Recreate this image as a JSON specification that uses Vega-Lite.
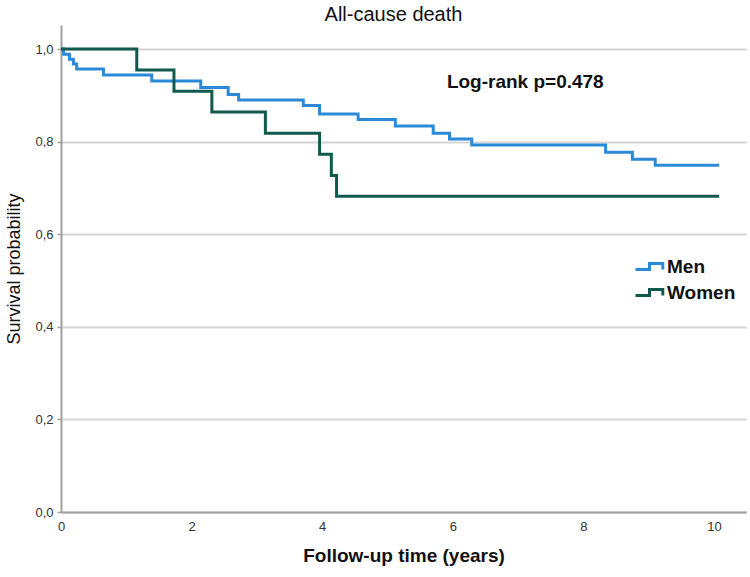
{
  "$schema": "https://vega.github.io/schema/vega-lite/v6.json",
  "width": 685,
  "height": 487,
  "autosize": {"type": "none"},
  "padding": {"left": 61, "top": 25, "right": 4, "bottom": 65},
  "background": "white",
  "title": {"text": "All-cause death", "fontSize": 20, "fontWeight": "normal", "color": "#111", "anchor": "middle", "dx": -10, "offset": 0},
  "config": {"font": "Liberation Sans", "view": {"stroke": null}},
  "datasets": {
    "km": [
      {"group": "Men", "time": 0, "surv": 1.0},
      {"group": "Men", "time": 0.04, "surv": 0.989},
      {"group": "Men", "time": 0.13, "surv": 0.978},
      {"group": "Men", "time": 0.19, "surv": 0.968},
      {"group": "Men", "time": 0.24, "surv": 0.957},
      {"group": "Men", "time": 0.65, "surv": 0.944},
      {"group": "Men", "time": 1.39, "surv": 0.931},
      {"group": "Men", "time": 2.14, "surv": 0.917},
      {"group": "Men", "time": 2.56, "surv": 0.902},
      {"group": "Men", "time": 2.72, "surv": 0.89},
      {"group": "Men", "time": 3.71, "surv": 0.878},
      {"group": "Men", "time": 3.96, "surv": 0.86},
      {"group": "Men", "time": 4.55, "surv": 0.848},
      {"group": "Men", "time": 5.12, "surv": 0.834},
      {"group": "Men", "time": 5.7, "surv": 0.818},
      {"group": "Men", "time": 5.95, "surv": 0.806},
      {"group": "Men", "time": 6.29, "surv": 0.793},
      {"group": "Men", "time": 8.34, "surv": 0.777},
      {"group": "Men", "time": 8.75, "surv": 0.762},
      {"group": "Men", "time": 9.1, "surv": 0.749},
      {"group": "Men", "time": 10.08, "surv": 0.749},
      {"group": "Women", "time": 0, "surv": 1.0},
      {"group": "Women", "time": 1.16, "surv": 0.955},
      {"group": "Women", "time": 1.73, "surv": 0.909},
      {"group": "Women", "time": 2.31, "surv": 0.864},
      {"group": "Women", "time": 3.13, "surv": 0.818},
      {"group": "Women", "time": 3.96, "surv": 0.773},
      {"group": "Women", "time": 4.14, "surv": 0.727},
      {"group": "Women", "time": 4.22, "surv": 0.682},
      {"group": "Women", "time": 10.08, "surv": 0.682}
    ],
    "ann": [{"x": 7.11, "y": 0.929, "label": "Log-rank p=0.478"}]
  },
  "layer": [
    {
      "data": {"name": "km"},
      "mark": {"type": "line", "interpolate": "step-after", "strokeWidth": 3},
      "encoding": {
        "x": {
          "field": "time", "type": "quantitative",
          "scale": {"domain": [0, 10.49], "nice": false, "zero": false},
          "axis": {
            "values": [0, 2, 4, 6, 8, 10],
            "format": "d",
            "title": "Follow-up time (years)",
            "titleFontSize": 19, "titleFontWeight": "bold", "titleColor": "#111", "titlePadding": 13,
            "labelFontSize": 13, "labelColor": "#333", "labelPadding": 8, "labelFlush": false,
            "ticks": false, "grid": false,
            "domainColor": "#a0a0a0", "domainWidth": 2
          }
        },
        "y": {
          "field": "surv", "type": "quantitative",
          "scale": {"domain": [0, 1.052], "nice": false},
          "axis": {
            "values": [0, 0.2, 0.4, 0.6, 0.8, 1.0],
            "labelExpr": "replace(format(datum.value, '.1f'), '.', ',')",
            "title": "Survival probability",
            "titleFontSize": 18, "titleFontWeight": "normal", "titleColor": "#111", "titlePadding": 11,
            "labelFontSize": 13, "labelColor": "#333", "labelPadding": 4,
            "grid": true, "gridColor": "#d4d4d4", "gridWidth": 2,
            "tickSize": 4, "tickColor": "#a0a0a0", "tickWidth": 1.5,
            "domainColor": "#a0a0a0", "domainWidth": 2
          }
        },
        "color": {
          "field": "group", "type": "nominal",
          "scale": {"domain": ["Men", "Women"], "range": ["#2a8ad8", "#0f5a4c"]},
          "legend": {
            "orient": "none", "legendX": 573, "legendY": 226, "title": null,
            "symbolType": "M -1 0.22 H 0 V -0.22 H 0.95 V 0.22",
            "symbolSize": 784, "symbolStrokeWidth": 3, "symbolFillColor": "transparent",
            "labelFontSize": 19, "labelFontWeight": "bold", "labelColor": "#111",
            "labelOffset": 2, "rowPadding": -8
          }
        }
      }
    },
    {
      "data": {"name": "ann"},
      "mark": {"type": "text", "fontSize": 19, "fontWeight": "bold", "align": "center", "baseline": "middle", "color": "#111"},
      "encoding": {
        "x": {"field": "x", "type": "quantitative"},
        "y": {"field": "y", "type": "quantitative"},
        "text": {"field": "label"}
      }
    }
  ]
}
